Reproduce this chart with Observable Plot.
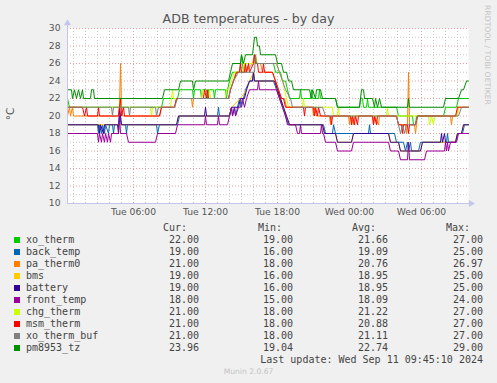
<!DOCTYPE html>
<html><head><meta charset="utf-8">
<script src="https://cdn.jsdelivr.net/npm/d3@7"></script>
<script src="https://cdn.jsdelivr.net/npm/@observablehq/plot@0.6"></script>
<style>
html,body{margin:0;padding:0;background:#f0f0f0;}
#wrap{position:relative;width:497px;height:383px;background:#f0f0f0;overflow:hidden;font-family:"DejaVu Sans",sans-serif;}
#chart{position:absolute;left:0;top:0;}
.t{position:absolute;white-space:pre;}
.title{left:0;width:497px;text-align:center;top:11px;font-size:12.6px;color:#555;}
.leg{font-family:"DejaVu Sans Mono",monospace;font-size:10px;color:#444;line-height:12px;height:12px;}
.sw{position:absolute;width:6px;height:6px;}
</style></head>
<body><div id="wrap"></div>
<script>
// ---- data (time = minutes since Tue 10 Sep 2024 00:00, value = °C) ----
const names = ["xo_therm","back_temp","pa_therm0","bms","battery","front_temp","chg_therm","msm_therm","xo_therm_buf","pm8953_tz"];
const colors = ["#00CC00","#0066B3","#FF8000","#FFCC00","#330099","#990099","#CCFF00","#FF0000","#808080","#008F00"];
const curVals = ["22.00","19.00","21.00","19.00","19.00","18.00","21.00","21.00","21.00","23.96"];
const minVals = ["19.00","16.00","18.00","16.00","16.00","15.00","18.00","18.00","18.00","19.04"];
const avgVals = ["21.66","19.09","20.76","18.95","18.95","18.09","21.22","20.88","21.11","22.74"];
const maxVals = ["27.00","25.00","26.97","25.00","25.00","24.00","27.00","27.00","27.00","29.00"];
const xTicks = [360, 720, 1080, 1440, 1800];
const yTicks = [10,12,14,16,18,20,22,24,26,28,30];
const xDomain = [30, 2035];

const xo_therm = [[30,22],[40,21],[500,21],[510,22],[580,22],[590,23],[655,23],[660,22],[665,23],[695,23],[700,22],[705,23],[725,23],[730,22],[735,23],[760,23],[765,22],[770,23],[820,23],[825,22],[830,23],[840,24],[855,25],[890,25],[900,27],[905,26],[910,25],[920,26],[960,26],[965,27],[970,26],[1060,26],[1070,25],[1095,25],[1105,24],[1120,24],[1130,23],[1140,22],[1190,22],[1195,23],[1200,22],[1245,22],[1250,23],[1255,22],[1285,22],[1290,23],[1295,22],[1370,22],[1380,21],[1490,21],[1495,22],[1505,22],[1510,21],[1525,21],[1530,22],[1535,21],[1675,21],[1685,20],[1755,20],[1760,19],[1770,19],[1775,20],[1910,20],[1920,21],[1975,21],[1985,22],[2035,22]];
const back_temp = [[30,19],[180,19],[185,18],[190,19],[200,18],[205,19],[215,18],[220,19],[235,18],[240,19],[255,19],[260,18],[265,19],[285,19],[290,20],[300,19],[320,19],[325,18],[330,19],[475,19],[480,18],[490,19],[580,19],[590,20],[780,20],[785,21],[790,20],[840,20],[850,21],[855,20],[865,21],[870,20],[880,21],[890,22],[900,21],[910,22],[920,23],[940,24],[955,24],[960,25],[965,24],[1060,24],[1075,23],[1090,22],[1105,21],[1120,20],[1135,19],[1310,19],[1320,18],[1355,18],[1360,19],[1370,18],[1535,18],[1540,19],[1545,18],[1665,18],[1675,17],[1710,17],[1720,16],[1730,17],[1735,16],[1745,17],[1750,16],[1785,16],[1795,17],[1925,17],[1930,18],[1935,17],[1970,17],[1980,18],[2005,18],[2015,19],[2035,19]];
const pa_therm0 = [[30,20],[40,21],[45,20],[55,21],[60,20],[285,20],[290,21],[295,26],[300,21],[305,20],[490,20],[500,21],[565,21],[575,22],[650,22],[655,21],[660,22],[835,22],[845,23],[860,24],[875,25],[910,25],[915,26],[920,25],[955,26],[965,27],[975,26],[995,26],[1005,25],[1055,25],[1070,24],[1085,23],[1100,22],[1115,22],[1125,21],[1255,21],[1260,20],[1265,21],[1275,20],[1340,20],[1345,19],[1350,20],[1435,20],[1440,19],[1445,20],[1460,19],[1465,20],[1555,20],[1560,19],[1565,20],[1585,19],[1590,20],[1675,20],[1685,19],[1720,19],[1725,18],[1730,19],[1735,25],[1740,19],[1765,19],[1770,18],[1775,19],[1780,20],[1945,20],[1950,19],[1955,20],[1975,20],[1985,21],[2035,21]];
const bms = [[30,19],[575,19],[585,20],[840,20],[850,21],[895,22],[925,23],[940,24],[960,25],[965,24],[1065,24],[1095,22],[1125,20],[1140,19],[1305,19],[1315,18],[1370,18],[1380,17],[1450,17],[1460,18],[1635,18],[1645,17],[1685,17],[1695,16],[1795,16],[1805,17],[1970,17],[1980,18],[2000,18],[2010,19],[2035,19]];
const battery = [[30,19],[185,19],[190,18],[195,19],[210,18],[215,19],[280,19],[285,18],[290,21],[295,20],[300,19],[575,19],[585,20],[715,20],[720,21],[725,20],[840,20],[850,21],[885,21],[895,22],[915,22],[925,23],[940,24],[955,24],[960,25],[965,24],[1065,24],[1080,23],[1095,22],[1110,21],[1125,20],[1140,19],[1305,19],[1315,18],[1370,18],[1380,17],[1450,17],[1460,18],[1635,18],[1645,17],[1685,17],[1695,16],[1795,16],[1805,17],[1895,17],[1900,18],[1905,17],[1915,18],[1920,17],[1970,17],[1980,18],[2000,18],[2010,19],[2035,19]];
const front_temp = [[30,18],[180,18],[185,17],[190,18],[200,17],[205,18],[215,17],[220,18],[230,17],[235,18],[245,17],[250,18],[285,18],[290,20],[295,18],[325,18],[335,17],[470,17],[480,18],[570,18],[580,19],[715,19],[720,20],[725,19],[780,19],[785,20],[790,19],[830,19],[840,20],[850,21],[855,20],[865,21],[870,20],[885,21],[895,21],[905,22],[915,21],[925,22],[940,23],[980,23],[985,24],[990,23],[1075,23],[1090,22],[1105,21],[1120,20],[1130,19],[1170,19],[1180,18],[1190,18],[1195,19],[1200,18],[1295,18],[1300,19],[1305,18],[1310,18],[1320,17],[1370,17],[1380,16],[1450,16],[1460,17],[1635,17],[1645,16],[1685,16],[1695,15],[1730,15],[1735,17],[1740,15],[1815,15],[1825,16],[1915,16],[1920,17],[1925,16],[1930,17],[1935,16],[1945,17],[1975,17],[1985,18],[2035,18]];
const chg_therm = [[30,21],[290,21],[295,22],[300,21],[445,21],[450,20],[455,21],[545,21],[555,23],[560,22],[700,22],[705,23],[710,22],[735,22],[740,23],[745,22],[820,22],[825,23],[835,23],[850,24],[865,25],[910,25],[915,26],[960,26],[970,27],[980,26],[1075,26],[1090,25],[1105,24],[1115,23],[1125,22],[1135,21],[1205,21],[1210,22],[1215,21],[1355,21],[1360,20],[1380,20],[1385,21],[1390,20],[1625,20],[1630,21],[1635,20],[1835,20],[1840,19],[1850,20],[1860,19],[1865,20],[1980,20],[1985,21],[2035,21]];
const msm_therm = [[30,21],[105,21],[115,20],[125,21],[130,20],[180,20],[185,21],[190,20],[285,20],[290,21],[295,22],[300,20],[310,21],[315,20],[490,20],[500,21],[565,21],[575,22],[710,22],[715,23],[725,22],[730,23],[735,22],[835,22],[845,23],[860,24],[875,25],[890,25],[895,26],[900,25],[915,25],[920,26],[925,25],[935,26],[940,25],[960,26],[965,27],[970,26],[980,26],[985,25],[1005,25],[1010,26],[1015,25],[1055,25],[1070,24],[1085,23],[1100,22],[1110,22],[1120,21],[1210,21],[1215,20],[1220,21],[1260,21],[1265,20],[1270,21],[1280,20],[1285,21],[1295,20],[1345,20],[1350,19],[1355,20],[1445,20],[1450,19],[1455,20],[1465,19],[1470,20],[1480,19],[1485,20],[1555,20],[1560,19],[1565,20],[1575,19],[1580,20],[1675,20],[1685,19],[1700,19],[1705,18],[1710,19],[1730,19],[1735,18],[1740,19],[1770,19],[1780,20],[1970,20],[1980,21],[2035,21]];
const xo_therm_buf = [[30,21],[250,21],[255,20],[260,21],[335,21],[340,20],[345,21],[470,21],[475,20],[485,21],[565,21],[580,22],[835,22],[845,23],[860,24],[885,25],[965,25],[970,27],[975,26],[1075,26],[1090,25],[1105,24],[1120,23],[1145,22],[1155,21],[1305,21],[1320,20],[1675,20],[1685,19],[1695,18],[1705,19],[1715,18],[1725,19],[1770,19],[1780,20],[1985,20],[2000,21],[2035,21]];
const pm8953_tz = [[30,23],[50,23],[55,22],[65,23],[75,22],[85,23],[95,22],[105,23],[110,22],[145,22],[150,23],[160,23],[165,22],[505,22],[515,23],[585,23],[595,24],[655,24],[660,23],[670,24],[835,24],[845,25],[855,26],[895,26],[900,27],[910,26],[920,27],[955,27],[960,28],[965,29],[975,29],[980,28],[990,28],[995,27],[1070,27],[1080,26],[1100,26],[1110,25],[1125,25],[1135,24],[1150,24],[1160,23],[1240,23],[1250,22],[1255,23],[1270,22],[1275,23],[1295,23],[1305,22],[1370,22],[1380,21],[1490,21],[1500,23],[1510,23],[1515,22],[1555,22],[1565,21],[1570,22],[1580,21],[1590,22],[1600,21],[1730,21],[1735,22],[1740,21],[1910,21],[1920,22],[1985,22],[2000,23],[2010,23],[2025,24],[2035,24]];

const series = {xo_therm, back_temp, pa_therm0, bms, battery, front_temp, chg_therm, msm_therm, xo_therm_buf, pm8953_tz};
const toDate = m => new Date(Date.UTC(2024, 8, 10) + m * 60000);
const rows = names.flatMap(n => series[n].map(([m, v]) => ({name: n, date: toDate(m), value: v})));

const x0 = toDate(xDomain[0]), x1 = toDate(xDomain[1]);
const hours = d3.range(60, xDomain[1], 60).map(toDate);
const majorX = hours.filter(d => d.getUTCHours() % 6 === 0);
const minorX = hours.filter(d => d.getUTCHours() % 6 !== 0);
const majorY = d3.range(12, 31, 2);
const minorY = d3.range(11, 30, 2);
const axisCol = "#c4c4ee";

const chart = Plot.plot({
  width: 497, height: 225,
  marginLeft: 67, marginRight: 29, marginTop: 28, marginBottom: 22,
  style: {background: "transparent", fontFamily: "DejaVu Sans", fontSize: "9.2px", color: "#555", overflow: "visible"},
  x: {type: "utc", domain: [x0, x1]},
  y: {domain: [10, 30]},
  color: {domain: names, range: colors},
  marks: [
    Plot.frame({fill: "white", stroke: "none"}),
    Plot.ruleY(minorY, {stroke: "#c8c8c8", strokeDasharray: "1,2"}),
    Plot.ruleX(minorX, {stroke: "#c8c8c8", strokeDasharray: "1,2"}),
    Plot.ruleY(majorY, {stroke: "#eaa0a0", strokeDasharray: "1,2"}),
    Plot.ruleX(majorX, {stroke: "#eaa0a0", strokeDasharray: "1,2"}),
    Plot.line(rows, {x: "date", y: "value", z: "name", stroke: "name", strokeWidth: 1}),
    Plot.ruleX([x0], {y1: 10, y2: 30.5, stroke: axisCol}),
    Plot.ruleY([10], {x1: x0, x2: toDate(xDomain[1] + 10), stroke: axisCol}),
    Plot.dot([{d: x0, v: 30.6}], {x: "d", y: "v", symbol: "triangle", r: 2.6, fill: axisCol, stroke: "none"}),
    Plot.dot([{d: toDate(xDomain[1] + 12), v: 10}], {x: "d", y: "v", symbol: "triangle", rotate: 90, r: 2.6, fill: axisCol, stroke: "none"}),
    Plot.axisY(yTicks, {tickSize: 0, tickPadding: 7, label: null}),
    Plot.axisX(xTicks.map(toDate), {tickSize: 0, tickPadding: 5, label: null, tickFormat: d3.utcFormat("%a %H:%M")})
  ]
});
chart.id = "chart";
const wrap = document.getElementById("wrap");
wrap.appendChild(chart);

function addText(cls, text, style) {
  const d = document.createElement("div");
  d.className = "t " + cls;
  d.textContent = text;
  Object.assign(d.style, style);
  wrap.appendChild(d);
  return d;
}
addText("title", "ADB temperatures - by day", {});
addText("", "°C", {left: "10px", top: "114px", transform: "translate(-50%,-50%) rotate(-90deg)", fontSize: "10.5px", color: "#555"});
addText("", "RRDTOOL / TOBI OETIKER", {left: "483px", top: "5px", writingMode: "vertical-rl", fontSize: "7.6px", color: "#c4c4c4", letterSpacing: "0.1px"});

// legend
const rowTop = c => (c - 6) + "px";
addText("leg", "Cur:", {right: "310px", top: rowTop(228)});
addText("leg", "Min:", {right: "215px", top: rowTop(228)});
addText("leg", "Avg:", {right: "121px", top: rowTop(228)});
addText("leg", "Max:", {right: "27px", top: rowTop(228)});
names.forEach((n, i) => {
  const c = 240 + i * 12;
  const sw = document.createElement("div");
  sw.className = "sw";
  Object.assign(sw.style, {left: "14px", top: (c - 3) + "px", background: colors[i]});
  wrap.appendChild(sw);
  addText("leg", n, {left: "26px", top: rowTop(c)});
  addText("leg", curVals[i], {right: "298px", top: rowTop(c)});
  addText("leg", minVals[i], {right: "204px", top: rowTop(c)});
  addText("leg", avgVals[i], {right: "109px", top: rowTop(c)});
  addText("leg", maxVals[i], {right: "14px", top: rowTop(c)});
});
addText("leg", "Last update: Wed Sep 11 09:45:10 2024", {right: "14px", top: rowTop(360)});
addText("", "Munin 2.0.67", {left: "0px", width: "497px", textAlign: "center", top: "367px", fontSize: "7.6px", color: "#c4c4c4"});
</script>
</body></html>
